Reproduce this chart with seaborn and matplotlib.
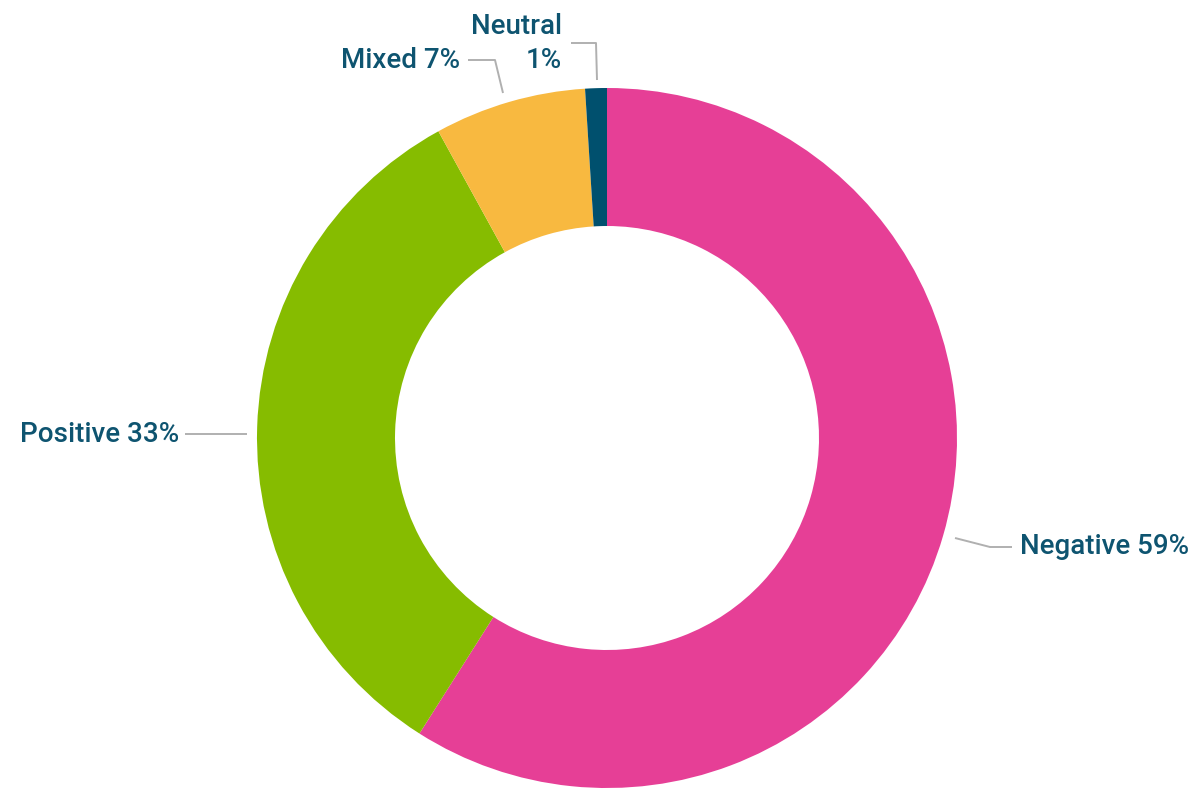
import matplotlib.pyplot as plt
import seaborn as sns

sns.set_theme(style="white")
plt.rcParams["font.family"] = ["Roboto", "DejaVu Sans"]

categories = ["Negative", "Positive", "Mixed", "Neutral"]
shares = [59, 33, 7, 1]
colors = ["#E63F96", "#86BC00", "#F8B940", "#00506E"]
text_color = "#0E5470"
line_color = "#B0B0B0"

W, H = 1201, 789
fig = plt.figure(figsize=(W / 100, H / 100), dpi=100)
ax = fig.add_axes([0, 0, 1, 1])

# donut (y axis flipped below, so counterclock here runs clockwise on screen)
cx, cy, r_out, r_in = 607, 438, 350, 212
ax.pie(shares, colors=colors, center=(cx, cy), radius=r_out, startangle=-90,
       counterclock=True, wedgeprops=dict(width=r_out - r_in, linewidth=0),
       frame=True)
ax.set_xlim(0, W)
ax.set_ylim(H, 0)
ax.axis("off")

# leader lines (pixel positions)
leaders = {
    "Negative": [(955, 538), (990, 547), (1012, 547)],
    "Positive": [(247, 434), (185, 434)],
    "Mixed": [(503, 93), (495, 60), (468, 60)],
    "Neutral": [(597, 80), (596, 43), (571, 43)],
}
for pts in leaders.values():
    xs, ys = zip(*pts)
    ax.plot(xs, ys, color=line_color, lw=1.4, solid_capstyle="butt")

fs = 20
kw = dict(color=text_color, fontsize=fs, fontweight="medium", va="center")
ax.text(1020, 547, f"{categories[0]} {shares[0]}%", ha="left", **kw)
ax.text(179, 434, f"{categories[1]} {shares[1]}%", ha="right", **kw)
ax.text(460, 60, f"{categories[2]} {shares[2]}%", ha="right", **kw)
ax.text(562, 26, categories[3], ha="right", **kw)
ax.text(562, 60, f"{shares[3]}%", ha="right", **kw)

fig.savefig("out.png", dpi=100)
